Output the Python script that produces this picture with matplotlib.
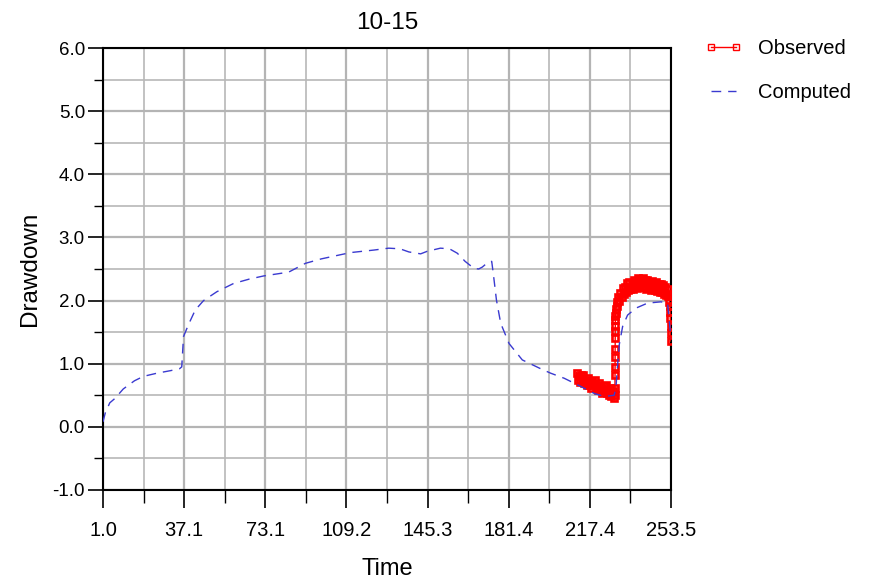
import matplotlib
matplotlib.use("Agg")
import matplotlib.pyplot as plt
from matplotlib.ticker import MultipleLocator, FixedLocator

plt.rcParams['font.family'] = ['Liberation Sans', 'DejaVu Sans']

title = "10-15"
x_label = "Time"
y_label = "Drawdown"
x_tick_labels = ["1.0", "37.1", "73.1", "109.2", "145.3", "181.4", "217.4", "253.5"]
x_tick_values = [1.0, 37.07, 73.14, 109.21, 145.29, 181.36, 217.43, 253.5]
y_tick_values = [-1.0, 0.0, 1.0, 2.0, 3.0, 4.0, 5.0, 6.0]

comp_time = [1.0, 2.0, 4.0, 6.3, 10, 15, 19, 25, 31, 35, 36, 36.8, 39, 42, 45.7,
             51.6, 59, 66, 72.4, 83.5, 91, 98, 105.8, 111, 121.4, 128, 133, 137,
             142.2, 145.1, 151, 155, 158.5, 162, 165.9, 168, 169.6, 172.6, 173.8,
             174.5, 175.9, 177.8, 181.5, 187.4, 195, 200, 206, 213.4, 219.3, 223.8,
             228.2, 229.0, 229.7, 230.5, 232, 234.2, 237.9, 243.1, 249, 252, 252.7,
             253.5]
comp_dd = [0.08, 0.22, 0.38, 0.45, 0.60, 0.73, 0.80, 0.85, 0.89, 0.92, 0.95, 1.43,
           1.62, 1.85, 2.00, 2.14, 2.27, 2.34, 2.39, 2.45, 2.59, 2.66, 2.72, 2.76,
           2.80, 2.83, 2.82, 2.77, 2.74, 2.78, 2.83, 2.82, 2.75, 2.62, 2.51, 2.50,
           2.53, 2.62, 2.62, 2.43, 2.01, 1.64, 1.32, 1.06, 0.93, 0.85, 0.77, 0.64,
           0.53, 0.48, 0.50, 0.61, 0.95, 1.30, 1.59, 1.77, 1.88, 1.96, 1.98, 1.96,
           1.69, 1.40]

obs_time = [211.5, 212.0, 212.5, 213.0, 213.5, 214.0, 214.5, 215.0, 215.5, 216.0,
            216.5, 217.0, 217.5, 218.0, 218.5, 219.0, 219.5, 220.0, 220.5, 221.0,
            221.5, 222.0, 222.5, 223.0, 223.5, 224.0, 224.5, 225.0, 225.5, 226.0,
            226.5, 227.0, 227.5, 228.0, 228.5,
            228.6, 228.62, 228.64, 228.66, 228.68, 228.7, 228.72, 228.74, 228.76,
            228.8, 228.9,
            229.0, 229.3, 229.6, 230.0, 230.5, 231.0, 231.5, 232.0, 232.5, 233.0,
            233.5, 234.0, 234.5, 235.0, 235.5, 236.0, 236.5, 237.0, 237.5, 238.0,
            238.5, 239.0, 239.5, 240.0, 240.5, 241.0, 241.5, 242.0, 242.5, 243.0,
            243.5, 244.0, 244.5, 245.0, 245.5, 246.0, 246.5, 247.0, 247.5, 248.0,
            248.5, 249.0, 249.5, 250.0, 250.5, 251.0, 251.5, 252.0, 252.3, 252.6,
            252.8, 253.0, 253.1, 253.2, 253.3, 253.4, 253.5]
obs_dd = [0.86, 0.74, 0.80, 0.71, 0.82, 0.74, 0.82, 0.70, 0.74, 0.67,
          0.78, 0.66, 0.72, 0.62, 0.73, 0.66, 0.74, 0.62, 0.66, 0.58,
          0.70, 0.58, 0.64, 0.54, 0.65, 0.57, 0.66, 0.54, 0.58, 0.50,
          0.61, 0.49, 0.56, 0.46, 0.50,
          0.62, 0.82, 0.95, 1.11, 1.24, 1.40, 1.52, 1.59, 1.69,
          1.76, 1.80,
          1.86, 1.92, 1.97, 2.05, 1.99, 2.12, 2.05, 2.20, 2.11, 2.22,
          2.14, 2.28, 2.17, 2.29, 2.18, 2.27, 2.19, 2.33, 2.21, 2.30,
          2.20, 2.35, 2.23, 2.34, 2.21, 2.36, 2.22, 2.32, 2.19, 2.33,
          2.20, 2.30, 2.17, 2.31, 2.18, 2.28, 2.16, 2.29, 2.15, 2.27,
          2.14, 2.27, 2.13, 2.25, 2.11, 2.22, 2.09, 2.18, 2.08, 2.10,
          1.98, 1.92, 1.82, 1.72, 1.60, 1.48, 1.36]

fig = plt.figure(figsize=(8.73, 5.80), dpi=100)
ax = fig.add_axes([0.118, 0.1552, 0.6506, 0.762])

ax.plot(obs_time, obs_dd, color='#ff0000', lw=1.0, marker='s', ms=4.2,
        mfc='none', mec='#ff0000', mew=1.9, label='Observed', zorder=3)
ax.plot(comp_time, comp_dd, color='#3a3ad0', lw=1.0, dashes=(7, 5),
        label='Computed', zorder=4)

ax.set_xlim(1.0, 253.5)
ax.set_ylim(-1.0, 6.0)
ax.xaxis.set_major_locator(FixedLocator(x_tick_values))
ax.set_xticklabels(x_tick_labels)
minor_x = [(a + b) / 2 for a, b in zip(x_tick_values[:-1], x_tick_values[1:])]
ax.xaxis.set_minor_locator(FixedLocator(minor_x))
ax.yaxis.set_major_locator(FixedLocator(y_tick_values))
ax.set_yticklabels([f"{v:.1f}" for v in y_tick_values])
ax.yaxis.set_minor_locator(MultipleLocator(0.5))

ax.grid(True, which='major', color='#b4b4b4', lw=1.6, zorder=0)
ax.grid(True, which='minor', color='#b8b8b8', lw=1.2, zorder=0)
ax.set_axisbelow(True)

for s in ax.spines.values():
    s.set_color('black')
    s.set_linewidth(1.5)

ax.tick_params(axis='x', which='major', direction='out', length=13, width=1.2,
               labelsize=14.5, pad=9, colors='black')
ax.tick_params(axis='x', which='minor', direction='out', length=9, width=1.0)
ax.tick_params(axis='y', which='major', direction='out', length=11, width=1.2,
               labelsize=13.5, pad=2)
ax.tick_params(axis='y', which='minor', direction='out', length=6.5, width=1.0)

ax.set_title(title, fontsize=17.5, pad=14)
ax.set_xlabel(x_label, fontsize=17, labelpad=13)
ax.set_ylabel(y_label, fontsize=17.5, labelpad=8)

leg = fig.legend(loc='upper left', bbox_to_anchor=(0.8076, 0.933), frameon=False,
                 fontsize=14.5, handlelength=1.85, handletextpad=0.8,
                 labelspacing=1.25, borderpad=0, borderaxespad=0, numpoints=2)
leg.get_lines()[0].set_markeredgewidth(1.0)
leg.get_lines()[0].set_markersize(4.5)

fig.savefig('out.png', dpi=100)
